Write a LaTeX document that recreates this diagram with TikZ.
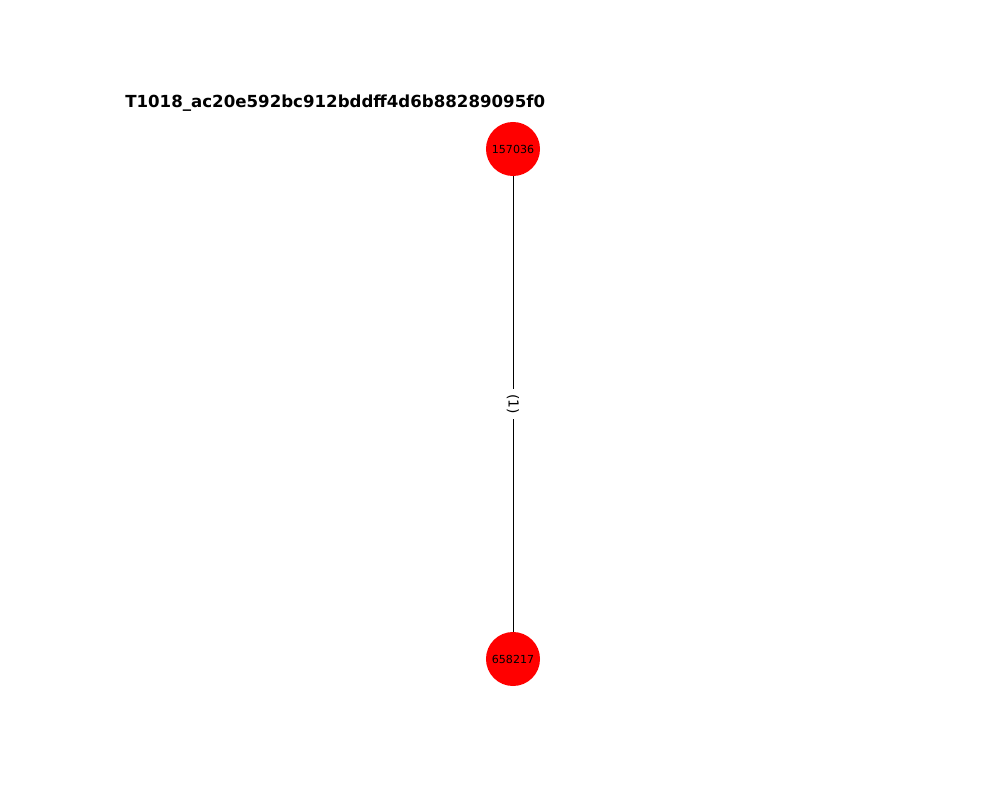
\documentclass[tikz,border=0pt]{standalone}
\usepackage{fontspec}
\setmainfont{DejaVu Sans}
\begin{document}
\begin{tikzpicture}[x=0.01in,y=-0.01in,
  vertex/.style={circle,fill=red,draw=none,minimum size=0.54in,inner sep=0pt,font=\fontsize{8}{9.6}\selectfont},
  link/.style={draw=black,line width=0.7pt},
  elabel/.style={fill=white,inner sep=3.5pt,font=\fontsize{10}{12}\selectfont,rotate=-90}]
\useasboundingbox (0,0) rectangle (1000,800);
\node[anchor=base west,font=\bfseries\fontsize{12}{14.4}\selectfont,inner sep=0pt] (title) at (125,108) {T1018\_ac20e592bc912bddff4d6b88289095f0};
\node[vertex] (a) at (513,149) {157036};
\node[vertex] (b) at (513,659) {658217};
\draw[link] (a) -- (b) node[midway,elabel] (lab) {(1)};
\end{tikzpicture}
\end{document}
